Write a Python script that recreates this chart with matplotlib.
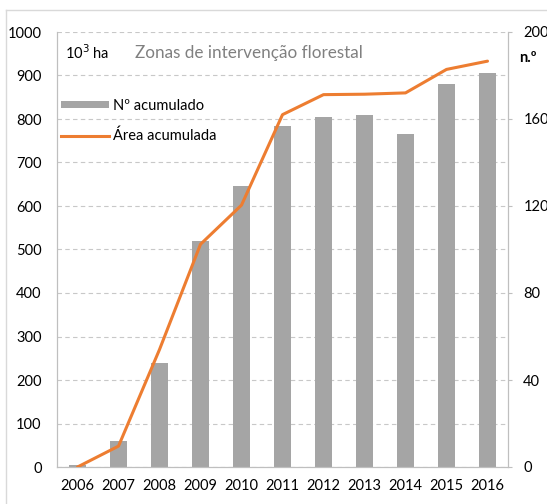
import matplotlib
matplotlib.use("Agg")
import matplotlib.pyplot as plt
from matplotlib.lines import Line2D
from matplotlib.patches import Patch
import numpy as np

# Data
years = ["2006", "2007", "2008", "2009", "2010", "2011",
         "2012", "2013", "2014", "2015", "2016"]
n_acumulado = [1, 12, 48, 104, 129, 157, 161, 162, 153, 176, 181]   # n.º (right axis)
area_acumulada = [0, 48, 270, 512, 602, 810, 856, 857, 860, 914, 933]  # 10³ ha (left axis)

BAR_COLOR = "#a5a5a5"
LINE_COLOR = "#ed7d31"
AXIS_GRAY = "#bfbfbf"

plt.rcParams["font.family"] = ["Lato", "DejaVu Sans"]

fig = plt.figure(figsize=(5.47, 5.04), dpi=100)
W, H = 547, 504

# axes placed in pixel terms
left, right, bottom, top = 57, 508, 467, 32
ax_bar = fig.add_axes([left / W, 1 - bottom / H, (right - left) / W, (bottom - top) / H])
ax_line = ax_bar.twinx()

x = np.arange(len(years))

# bars: number of zones (right axis)
ax_bar.bar(x, n_acumulado, width=0.41, color=BAR_COLOR, zorder=2)
ax_bar.set_ylim(0, 200)
ax_bar.set_xlim(-0.5, len(years) - 0.5)
ax_bar.yaxis.tick_right()
ax_bar.set_yticks(np.arange(0, 201, 40))
ax_bar.set_yticks(np.arange(0, 201, 20), minor=True)
ax_bar.tick_params(axis="y", which="major", length=3, width=0.8, color=AXIS_GRAY,
                   pad=8, labelsize=10.5)
ax_bar.tick_params(axis="y", which="minor", length=0)
ax_bar.grid(axis="y", which="both", linestyle=(0, (4, 3)), color="#c8c8c8", linewidth=0.8, zorder=0)
ax_bar.set_axisbelow(True)
ax_bar.set_xticks(x)
ax_bar.set_xticklabels(years)
ax_bar.tick_params(axis="x", length=0, pad=9, labelsize=10.5)
for side in ("left", "right", "bottom"):
    ax_bar.spines[side].set_color(AXIS_GRAY)
ax_bar.spines["top"].set_visible(False)

# line: area (left axis), drawn on top of the bars
ax_line.plot(x, area_acumulada, color=LINE_COLOR, linewidth=2.2, solid_capstyle="round", zorder=3)
ax_line.set_ylim(0, 1000)
ax_line.yaxis.tick_left()
ax_line.set_yticks(np.arange(0, 1001, 100))
ax_line.tick_params(axis="y", length=0, pad=11, labelsize=10.5)
for side in ("left", "right", "bottom"):
    ax_line.spines[side].set_color(AXIS_GRAY)
ax_line.spines["top"].set_visible(False)

# texts inside plot
ax_line.text(0.018, 0.952, "10$^3$ ha", transform=ax_line.transAxes, fontsize=10.5,
             va="center", ha="left")
ax_line.text(0.173, 0.952, "Zonas de intervenção florestal", transform=ax_line.transAxes,
             fontsize=12.3, color="#808080", va="center", ha="left")
fig.text(519 / W, 1 - 58 / H, "n.º", fontsize=10.5, fontweight="bold", va="center", ha="left")

handles = [Patch(facecolor=BAR_COLOR, edgecolor="none"),
           Line2D([], [], color=LINE_COLOR, linewidth=2.2)]
ax_line.legend(handles, ["Nº acumulado", "Área acumulada"], loc="upper left",
               bbox_to_anchor=(-0.005, 0.86), frameon=False, fontsize=10.5,
               handlelength=3.3, handleheight=0.45, handletextpad=0.3, labelspacing=1.1,
               borderaxespad=0)

# light chart-area border (left and top edges visible)
fig.add_artist(Line2D([5.5 / W, 5.5 / W], [0, 1 - 10 / H], color="#d9d9d9", linewidth=1))
fig.add_artist(Line2D([5.5 / W, 1], [1 - 10 / H, 1 - 10 / H], color="#d9d9d9", linewidth=1))

fig.savefig("out.png", dpi=100)
